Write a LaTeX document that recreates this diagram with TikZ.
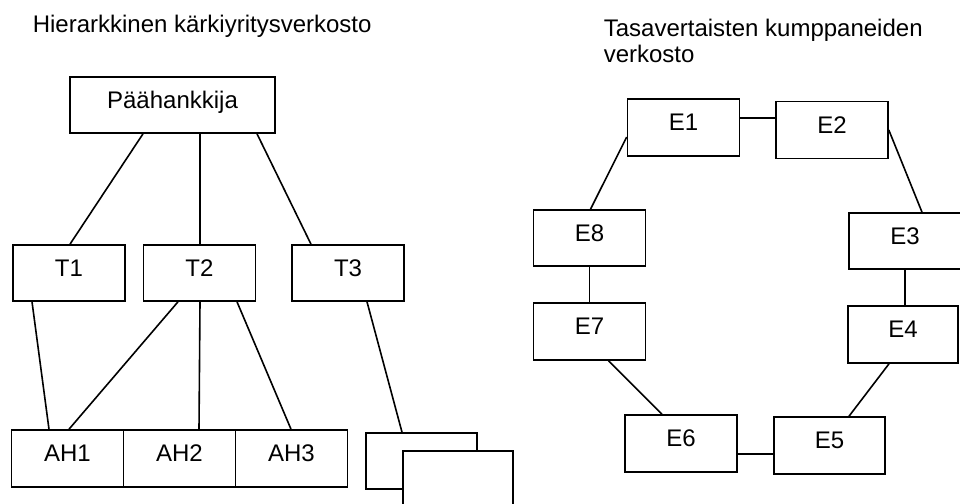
\documentclass[tikz,border=0pt]{standalone}
\usepackage{fontspec}
\setmainfont{Liberation Sans}
\begin{document}
\begin{tikzpicture}[x=1pt, y=-1pt, line width=1.6pt,
		laatikko/.style={draw, fill=white, inner sep=0pt, minimum width=112pt, minimum height=57pt,
			text height=17.5pt, text depth=11.5pt, font=\fontsize{24}{28}\selectfont},
		otsikko/.style={inner sep=0pt, align=left, font=\fontsize{24}{26}\selectfont}]
		\useasboundingbox (0,0) rectangle (960,503);
		% Titles
		\node[otsikko, anchor=base west] (hier) at (32,33) {Hierarkkinen kärkiyritysverkosto};
		\node[otsikko, anchor=north west] (tasa) at (603,18.5) {Tasavertaisten kumppaneiden\\verkosto};
		% Hierarchical network
		\node[laatikko, minimum width=205pt, minimum height=56pt] (ph) at (172.5,105) {Päähankkija};
		\node[laatikko, minimum height=56pt] (t1) at (69,273) {T1};
		\node[laatikko, minimum height=56pt] (t2) at (199.5,273) {T2};
		\node[laatikko, minimum height=56pt] (t3) at (348,273) {T3};
		\node[laatikko] (ah1) at (67.5,458.5) {AH1};
		\node[laatikko] (ah2) at (179.5,458.5) {AH2};
		\node[laatikko] (ah3) at (291.5,458.5) {AH3};
		\node[laatikko, minimum width=111pt, minimum height=56pt] (ahx) at (421.5,461) {};
		\node[laatikko, minimum width=110pt] (ahy) at (458,479.5) {};
		\draw ([xshift=-29.5pt]ph.south) -- ([xshift=1pt]t1.north);
		\draw ([xshift=27.5pt]ph.south) -- ([xshift=0.5pt]t2.north);
		\draw ([xshift=84.5pt]ph.south) -- ([xshift=-37pt]t3.north);
		\draw ([xshift=-37pt]t1.south) -- ([xshift=-18.5pt]ah1.north);
		\draw ([xshift=-21.5pt]t2.south) -- ([xshift=1.5pt]ah1.north);
		\draw ([xshift=0.5pt]t2.south) -- ([xshift=19.5pt]ah2.north);
		\draw ([xshift=37.5pt]t2.south) -- ([xshift=-0.5pt]ah3.north);
		\draw ([xshift=19pt]t3.south) -- ([xshift=-19.5pt]ahx.north);
		% Peer network
		\node[laatikko] (e1) at (683.5,127.5) {E1};
		\node[laatikko] (e2) at (832,130) {E2};
		\node[laatikko, minimum height=56pt] (e3) at (905,241) {E3};
		\node[laatikko, minimum width=110pt] (e4) at (903,334.5) {E4};
		\node[laatikko, minimum width=111pt] (e5) at (829.5,445.5) {E5};
		\node[laatikko] (e6) at (681,443.5) {E6};
		\node[laatikko] (e7) at (589.5,331.5) {E7};
		\node[laatikko, minimum height=56pt] (e8) at (589.5,238) {E8};
		\draw ([yshift=9.5pt]e1.east) -- ([yshift=12pt]e2.west);
		\draw (e2.east) -- ([xshift=17pt]e3.north);
		\draw (e3.south) -- (e3.south |- e4.north);
		\draw ([xshift=-14pt]e4.south) -- ([xshift=19.5pt]e5.north);
		\draw ([yshift=-8.5pt]e5.west) -- ([yshift=-10.5pt]e6.east);
		\draw ([xshift=-19pt]e6.north) -- ([xshift=19pt]e7.south);
		\draw (e7.north) -- (e8.south);
		\draw ([xshift=1pt]e8.north) -- ([yshift=-9.5pt]e1.west);
	\end{tikzpicture}
\end{document}
